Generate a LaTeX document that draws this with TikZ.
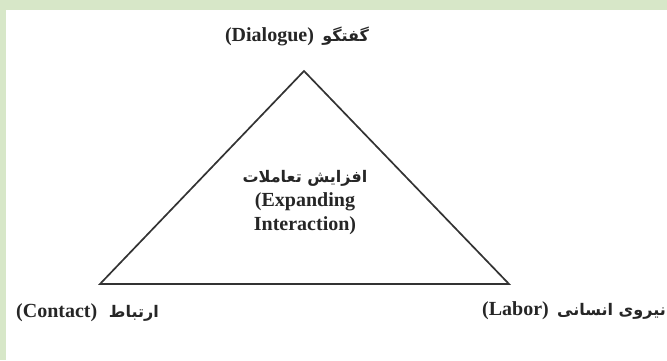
\documentclass[tikz,border=0pt]{standalone}
\usepackage{fontspec}
\setmainfont{Liberation Serif}
\newfontfamily\arabicfont[Script=Arabic]{DejaVu Sans}
\TeXXeTstate=1
\definecolor{bandgreen}{HTML}{D7E7C8}
\newcommand{\fatext}[1]{{\arabicfont\bfseries\fontsize{16}{19}\selectfont\beginR #1\endR}}
\tikzset{
  lbl/.style={font=\bfseries\fontsize{20}{24}\selectfont, inner sep=0pt, text=black!85},
  tri/.style={draw=black!80, line width=1.7pt, line join=miter}
}
\begin{document}
\begin{tikzpicture}[x=1pt,y=-1pt]
\useasboundingbox (0,0) rectangle (667,360);
\fill[bandgreen] (0,0) rectangle (667,10);
\fill[bandgreen] (0,0) rectangle (6,360);
\coordinate (A) at (304,71);
\coordinate (B) at (100,284);
\coordinate (C) at (509,284);
\draw[tri] (A) -- (B) -- (C) -- cycle;
\node[lbl] (top) at (297,36) {(Dialogue)\, \fatext{گفتگو}};
\node[lbl, align=center] (mid) at (305,203) {\fatext{افزایش تعاملات}\\(Expanding\\Interaction)};
\node[lbl, anchor=west] (left) at (16,313) {(Contact)\,\, \fatext{ارتباط}};
\node[lbl, anchor=east] (right) at (666,311) {(Labor)\, \fatext{نیروی انسانی}};
\end{tikzpicture}
\end{document}
